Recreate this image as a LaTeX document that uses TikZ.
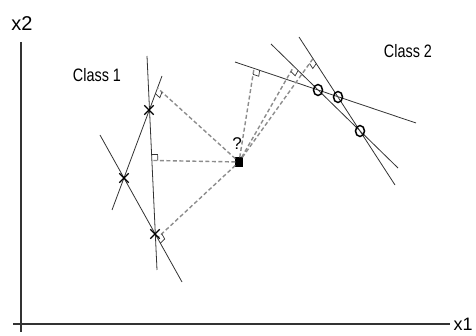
\documentclass[tikz,border=0pt]{standalone}
\usepackage{fontspec}
\setmainfont{Liberation Sans}
\newfontfamily\classfont[FakeStretch=0.8]{Liberation Sans}
\usetikzlibrary{calc,shapes.misc,shapes.geometric}

\newcommand{\rtmark}[3]{%
  \draw[ra] ($(#1)!6pt!(#2)$) -- ($(#1)!6pt!(#2)+(#1)!6pt!(#3)-(#1)$) -- ($(#1)!6pt!(#3)$);}

\begin{document}
\begin{tikzpicture}[
  x=1pt,y=-1pt,
  axis/.style={line width=1.6pt,black!80},
  sep/.style={line width=0.8pt,black!80},
  proj/.style={dash pattern=on 4pt off 2.5pt,line width=1.4pt,black!45},
  ra/.style={line width=0.7pt,black!80},
  xpt/.style={draw,cross out,minimum size=8pt,inner sep=0pt,line width=1.4pt},
  opt/.style={draw,ellipse,minimum width=9pt,minimum height=11pt,inner sep=0pt,line width=1.5pt},
  axlbl/.style={font=\fontsize{20}{20}\selectfont,inner sep=0pt},
  clbl/.style={font=\classfont\fontsize{18}{18}\selectfont,inner sep=0pt}]
\useasboundingbox (0,0) rectangle (476,336);
\coordinate (ytop) at (21,42);
\coordinate (ybot) at (21,332);
\coordinate (xbeg) at (13,324);
\coordinate (xend) at (450,324);
\draw[axis] (ytop) -- (ybot);
\draw[axis] (xbeg) -- (xend);
\node[axlbl] (x2) at (22,24) {x2};
\node[axlbl,font=\fontsize{18}{18}\selectfont] (x1) at (463,324) {x1};
\node[clbl] (c1) at (97,75) {Class 1};
\node[clbl] (c2) at (408,51) {Class 2};
% class 1
\coordinate (l1a) at (147,56);  \coordinate (l1b) at (157,270);
\coordinate (l2a) at (162,76);  \coordinate (l2b) at (112,210);
\coordinate (l3a) at (100,135); \coordinate (l3b) at (182,282);
\draw[sep] (l1a) -- (l1b);
\draw[sep] (l2a) -- (l2b);
\draw[sep] (l3a) -- (l3b);
% class 2
\coordinate (l4a) at (235,62);  \coordinate (l4b) at (416,123);
\coordinate (l5a) at (271,44);  \coordinate (l5b) at (398,168);
\coordinate (l6a) at (299,37);  \coordinate (l6b) at (395,185);
\draw[sep] (l4a) -- (l4b);
\draw[sep] (l5a) -- (l5b);
\draw[sep] (l6a) -- (l6b);
% feet
\coordinate (f1) at ($(l1a)!0.488!(l1b)$);
\coordinate (f2) at ($(l2a)!0.09!(l2b)$);
\coordinate (f3) at ($(l3a)!0.70!(l3b)$);
\coordinate (f4) at ($(l4a)!0.105!(l4b)$);
\coordinate (f5) at ($(l5a)!0.18!(l5b)$);
\coordinate (f6) at ($(l6a)!0.146!(l6b)$);
\node[draw,fill=black,minimum width=7pt,minimum height=9pt,inner sep=0pt] (q) at (239,162) {};
\node[axlbl,font=\fontsize{17}{17}\selectfont] (qm) at (237,144) {?};
\foreach \f in {f1,f2,f3,f4,f5,f6}
  \draw[proj] (q) -- (\f);
\rtmark{f1}{l1a}{q}
\rtmark{f2}{l2b}{q}
\rtmark{f3}{l3b}{q}
\rtmark{f4}{l4b}{q}
\rtmark{f5}{l5b}{q}
\rtmark{f6}{l6b}{q}
\node[xpt] (pa) at (149,110) {};
\node[xpt] (pb) at (124,178) {};
\node[xpt] (pc) at (155,234) {};
\node[opt] (pd) at (318,90) {};
\node[opt] (pe) at (338,97) {};
\node[opt] (pf) at (360,131) {};
\end{tikzpicture}
\end{document}
